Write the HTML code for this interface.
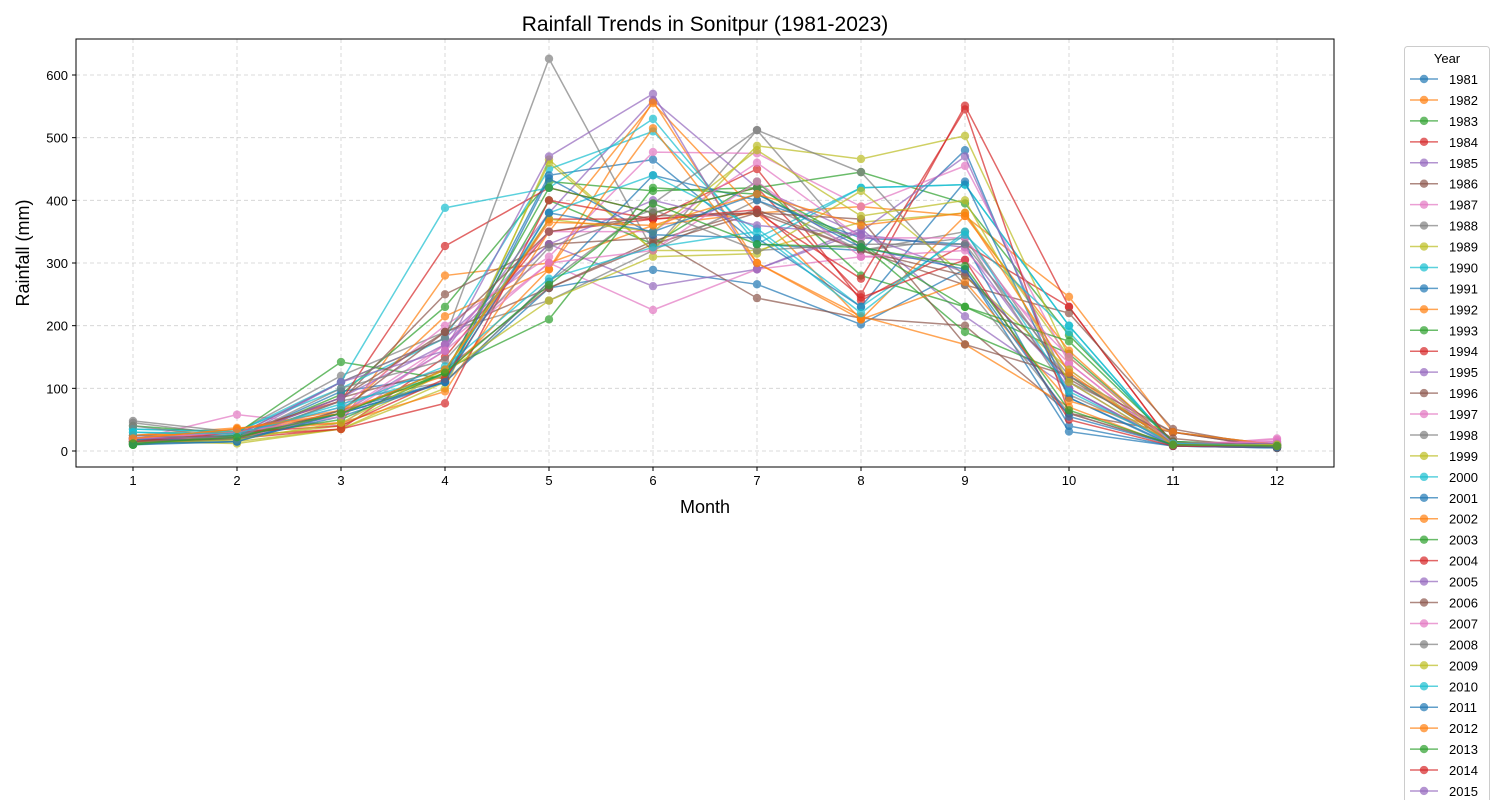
<!DOCTYPE html>
<html><head><meta charset="utf-8"><style>
html,body{margin:0;background:#fff;width:1500px;height:800px;overflow:hidden}
svg{display:block;font-family:"Liberation Sans","DejaVu Sans",sans-serif}
</style></head><body>
<svg id="chart" width="1500" height="800" viewBox="0 0 1500 800" xmlns="http://www.w3.org/2000/svg">
<rect x="0" y="0" width="1500" height="800" fill="#fff"/>
<text x="705" y="31" text-anchor="middle" font-size="21">Rainfall Trends in Sonitpur (1981-2023)</text>
<text x="705" y="513" text-anchor="middle" font-size="18">Month</text>
<text transform="translate(29,253) rotate(-90)" text-anchor="middle" font-size="18">Rainfall (mm)</text>
<g id="grid"></g><g id="series"></g><g id="axes"></g><g id="legend"></g>
</svg>
<script>
const months=[1,2,3,4,5,6,7,8,9,10,11,12];
const yTicks=[0,100,200,300,400,500,600];
const years=[1981,1982,1983,1984,1985,1986,1987,1988,1989,1990,1991,1992,1993,1994,1995,1996,1997,1998,1999,2000,2001,2002,2003,2004,2005,2006,2007,2008,2009,2010,2011,2012,2013,2014,2015,2016,2017,2018,2019,2020,2021,2022,2023];
const r1981=[20,18,60,110,260,289,266,202,290,31,8,5];
const r1982=[25,37,45,280,300,360,380,390,375,246,30,10];
const r1983=[10,20,90,230,430,415,420,445,395,185,15,10];
const r1984=[15,25,35,150,350,370,450,240,330,230,10,8];
const r1985=[22,20,110,180,330,263,290,355,215,100,12,12];
const r1986=[15,18,80,250,330,340,244,212,200,60,30,5];
const r1987=[18,58,40,170,300,225,290,310,305,140,8,20];
const r1988=[48,30,120,190,240,320,512,320,350,110,30,10];
const r1989=[12,15,35,100,465,320,320,365,380,150,10,8];
const r1990=[35,32,100,180,450,510,340,420,425,200,10,10];
const r1991=[15,20,95,120,440,465,330,320,480,85,10,8];
const r1992=[25,30,60,215,290,558,300,215,170,70,8,6];
const r1993=[40,28,142,115,400,330,430,280,230,155,12,10];
const r1994=[20,30,80,327,420,380,420,250,551,230,10,8];
const r1995=[15,25,60,160,380,560,420,345,325,100,10,12];
const r1996=[18,22,85,130,260,335,385,320,265,220,35,5];
const r1997=[20,25,70,200,310,477,475,390,455,140,10,18];
const r1998=[45,25,110,180,626,320,400,320,340,90,15,8];
const r1999=[15,12,35,110,460,320,487,466,503,150,10,8];
const r2000=[35,30,110,388,420,530,330,420,425,200,10,8];
const r2001=[10,15,65,110,270,440,400,340,330,40,8,5];
const r2002=[25,30,45,95,350,555,380,210,375,160,10,6];
const r2003=[10,25,60,130,210,420,410,330,190,120,12,10];
const r2004=[12,20,35,76,400,370,380,275,545,60,10,8];
const r2005=[20,25,110,160,470,570,290,350,470,100,10,10];
const r2006=[20,25,85,190,260,330,380,370,170,120,30,5];
const r2007=[15,20,60,170,350,350,460,340,340,130,10,15];
const r2008=[40,20,80,110,270,395,512,445,265,60,10,8];
const r2009=[15,22,40,125,240,310,315,415,280,130,10,8];
const r2010=[30,25,75,120,380,440,355,230,345,190,10,8];
const r2011=[18,18,55,110,435,345,340,230,430,85,8,5];
const r2012=[20,35,65,120,290,515,300,210,270,80,30,10];
const r2013=[10,25,50,125,420,380,420,330,230,175,15,8];
const r2014=[15,30,40,115,370,370,385,245,305,50,8,6];
const r2015=[20,22,85,170,330,400,360,345,285,110,10,12];
const r2016=[15,20,65,190,350,375,380,320,280,115,20,5];
const r2017=[20,30,55,160,300,320,430,310,320,150,12,15];
const r2018=[25,20,100,145,325,385,320,330,330,120,12,10];
const r2019=[12,18,45,130,370,350,480,375,400,110,10,10];
const r2020=[30,28,70,135,275,325,350,220,350,95,12,8];
const r2021=[12,15,60,110,380,350,410,325,290,55,10,6];
const r2022=[20,35,60,130,365,360,410,360,380,125,10,8];
const r2023=[12,22,60,125,265,395,330,325,295,65,10,8];
const rainfall=[r1981,r1982,r1983,r1984,r1985,r1986,r1987,r1988,r1989,r1990,r1991,r1992,r1993,r1994,r1995,r1996,r1997,r1998,r1999,r2000,r2001,r2002,r2003,r2004,r2005,r2006,r2007,r2008,r2009,r2010,r2011,r2012,r2013,r2014,r2015,r2016,r2017,r2018,r2019,r2020,r2021,r2022,r2023];
const palette=["#1f77b4","#ff7f0e","#2ca02c","#d62728","#9467bd","#8c564b","#e377c2","#7f7f7f","#bcbd22","#17becf"];
const NS="http://www.w3.org/2000/svg";
const PL=76,PR=1334,PT=39,PB=467;
function xScale(m){return 133+(m-1)*104;}
function yScale(v){return 451-v*(376/600);}
function mk(tag,attrs,parent){const e=document.createElementNS(NS,tag);for(const k in attrs)e.setAttribute(k,attrs[k]);parent.appendChild(e);return e;}
const grid=document.getElementById('grid'),axes=document.getElementById('axes'),ser=document.getElementById('series'),leg=document.getElementById('legend');
months.forEach(m=>{
  const g=mk('line',{x1:xScale(m),x2:xScale(m),y1:PT,y2:PB,stroke:'#d0d0d0','stroke-dasharray':'4,3','stroke-width':0.8},grid);
  
  
  const t=mk('line',{x1:xScale(m),x2:xScale(m),y1:PB,y2:PB+4,stroke:'#000'},axes);
  
  
  const l=mk('text',{x:xScale(m),y:PB+18,'text-anchor':'middle','font-size':13},axes);
  l.textContent=m;
  
  
});
yTicks.forEach(v=>{
  const g=mk('line',{x1:PL,x2:PR,y1:yScale(v),y2:yScale(v),stroke:'#d0d0d0','stroke-dasharray':'4,3','stroke-width':0.8},grid);
  
  
  const t=mk('line',{x1:PL-4,x2:PL,y1:yScale(v),y2:yScale(v),stroke:'#000'},axes);
  
  
  const l=mk('text',{x:PL-8,y:yScale(v)+5,'text-anchor':'end','font-size':13},axes);
  l.textContent=v;
  
  
});
const frame=mk('rect',{x:PL,y:PT,width:PR-PL,height:PB-PT,fill:'none',stroke:'#000','stroke-width':1},axes);


rainfall.forEach((row,i)=>{
  const c=palette[i%10];
  const g=mk('g',{opacity:0.7},ser);
  
  
  const pts=row.map((v,j)=>xScale(months[j])+','+yScale(v)).join(' ');
  const pl=mk('polyline',{points:pts,fill:'none',stroke:c,'stroke-width':1.5},g);
  
  
  row.forEach((v,j)=>{
    const p=mk('circle',{cx:xScale(months[j]),cy:yScale(v),r:4.2,fill:c},g);
    
    
  });
});
const box=mk('rect',{x:1404.5,y:46.5,width:85,height:760,rx:3,fill:'#fff',stroke:'#ccc'},leg);


const lt=mk('text',{x:1447,y:63,'text-anchor':'middle','font-size':13},leg);
lt.textContent='Year';


years.forEach((yr,i)=>{
  const y=79+i*20.94;
  if(y>810) return;
  const c=palette[i%10];
  const g=mk('g',{},leg);
  
  
  mk('line',{x1:1410,x2:1438,y1:y,y2:y,stroke:c,'stroke-width':1.5,opacity:0.7},g);
  mk('circle',{cx:1424,cy:y,r:4.2,fill:c,opacity:0.7},g);
  const t=mk('text',{x:1449,y:y+5,'font-size':13},g);
  t.textContent=yr;
});
</script>
</body></html>
